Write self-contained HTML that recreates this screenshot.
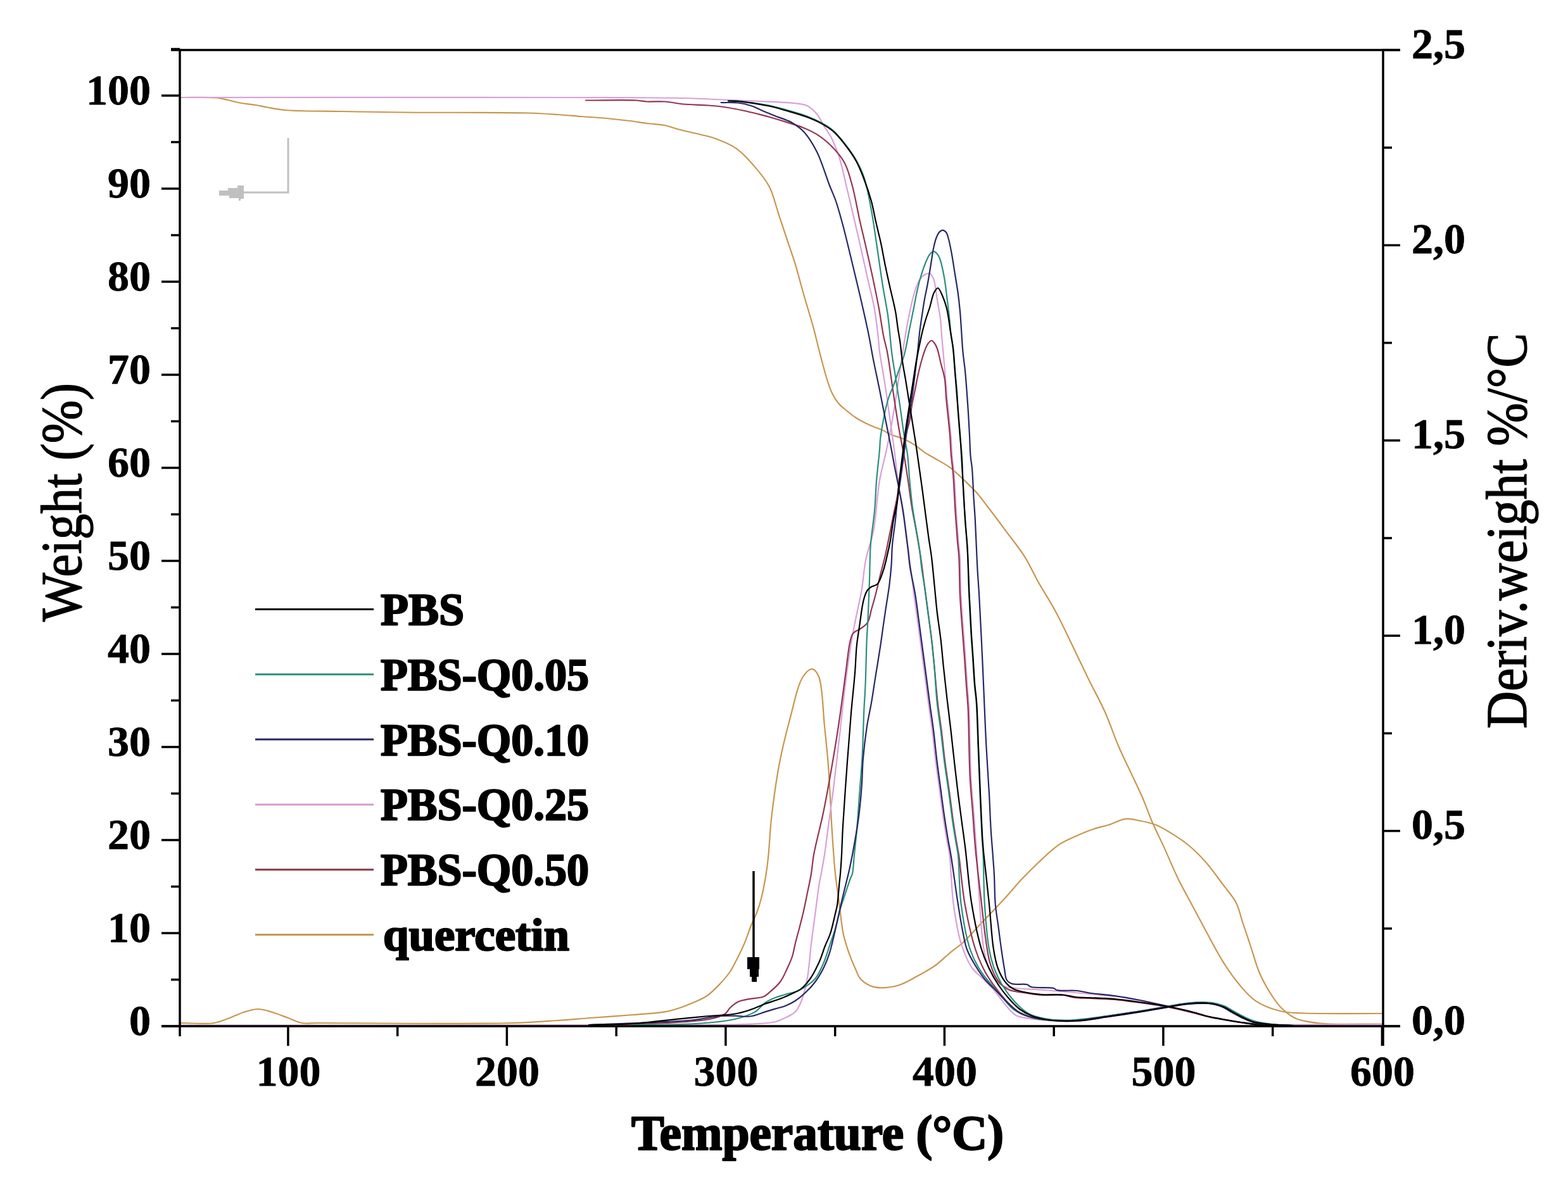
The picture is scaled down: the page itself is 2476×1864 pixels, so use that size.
<!DOCTYPE html>
<html><head><meta charset="utf-8"><title>TGA / DTG curves</title>
<style>html,body{margin:0;padding:0;background:#fff;overflow:hidden;}svg{display:block;}
.t{font-family:"Liberation Serif","DejaVu Serif",serif;font-weight:bold;fill:#000;stroke:#000;stroke-width:2.4px;stroke-linejoin:round;}
.r{font-family:"Liberation Serif","DejaVu Serif",serif;font-weight:normal;fill:#000;stroke:#000;stroke-width:1.4px;}</style></head><body>
<svg width="2476" height="1864" viewBox="0 0 2476 1864">
<rect width="2476" height="1864" fill="#fff"/>
<g fill="none" stroke-linejoin="round" stroke-linecap="round">
<path d="M284.0,154.0 C303.3,154.2 328.2,153.1 342.0,154.5 C349.8,155.3 354.2,156.7 360.0,158.0 C365.5,159.2 369.9,160.8 376.0,162.0 C384.0,163.6 395.7,164.6 404.0,166.0 C410.7,167.1 415.3,168.3 422.0,169.5 C430.3,171.0 438.0,172.9 450.0,174.0 C471.4,176.0 509.6,175.4 540.0,176.0 C571.2,176.6 597.6,177.1 635.0,177.5 C689.0,178.1 789.8,177.2 833.0,178.5 C854.1,179.1 865.2,180.0 880.0,181.0 C893.3,181.9 905.2,183.0 918.0,184.0 C931.2,185.0 944.9,185.8 958.0,187.0 C970.6,188.2 983.5,189.6 995.0,191.0 C1005.0,192.3 1013.7,193.8 1023.0,195.0 C1032.1,196.2 1041.7,196.3 1050.0,198.0 C1057.2,199.5 1062.3,201.9 1070.0,204.0 C1080.2,206.7 1095.2,209.8 1106.0,212.5 C1114.8,214.7 1121.5,215.9 1130.0,219.0 C1140.3,222.8 1152.9,227.7 1163.0,234.8 C1173.7,242.3 1183.3,253.4 1192.0,263.6 C1200.6,273.6 1208.9,283.4 1215.0,295.3 C1221.6,308.2 1224.8,324.2 1229.6,338.6 C1234.4,353.0 1239.5,368.2 1244.0,381.8 C1248.1,394.0 1251.6,403.6 1255.5,416.4 C1260.2,431.9 1265.1,451.3 1270.0,468.3 C1274.8,484.9 1280.0,501.2 1284.4,517.3 C1288.6,532.9 1292.0,548.5 1296.0,563.4 C1299.7,577.4 1303.8,593.3 1307.4,604.0 C1309.8,611.3 1311.6,616.4 1314.4,622.0 C1317.1,627.4 1320.3,632.6 1324.0,637.0 C1327.5,641.2 1331.6,644.4 1336.0,648.0 C1340.8,652.0 1346.5,656.6 1351.7,660.0 C1356.5,663.1 1361.1,665.5 1366.0,668.0 C1371.1,670.5 1376.9,673.1 1381.7,675.0 C1385.6,676.6 1388.6,677.3 1392.5,679.0 C1397.3,681.1 1402.5,684.7 1408.0,687.0 C1413.7,689.4 1420.1,690.5 1426.0,693.0 C1432.1,695.6 1438.3,699.0 1444.0,702.6 C1449.6,706.2 1454.6,711.0 1460.0,714.6 C1465.2,718.1 1470.1,720.5 1476.0,724.0 C1483.2,728.3 1492.3,732.7 1500.0,738.4 C1508.3,744.5 1516.7,753.0 1524.0,760.0 C1530.5,766.2 1536.2,771.4 1542.0,778.0 C1548.2,785.0 1553.3,792.3 1560.0,801.0 C1568.6,812.2 1579.4,826.6 1589.0,839.6 C1598.7,852.7 1609.5,865.8 1618.0,879.3 C1626.2,892.3 1631.7,905.4 1639.3,919.0 C1647.5,933.6 1657.2,948.1 1665.7,963.8 C1674.8,980.5 1683.3,998.8 1692.0,1016.7 C1700.9,1034.9 1709.7,1054.0 1718.6,1072.2 C1727.3,1090.1 1737.0,1107.0 1745.0,1125.0 C1753.0,1143.0 1759.6,1163.3 1766.8,1180.0 C1773.0,1194.4 1779.1,1206.4 1785.3,1219.6 C1791.5,1232.8 1798.0,1246.0 1803.8,1259.3 C1809.5,1272.5 1814.0,1285.9 1819.7,1299.0 C1825.5,1312.3 1831.9,1324.8 1838.2,1338.6 C1845.1,1353.7 1851.8,1370.5 1859.3,1386.0 C1866.7,1401.3 1875.3,1416.5 1883.0,1431.0 C1890.3,1444.7 1896.8,1456.9 1904.3,1470.7 C1912.6,1485.9 1921.5,1503.7 1930.7,1518.3 C1939.1,1531.7 1947.7,1544.4 1957.0,1555.3 C1965.4,1565.2 1973.0,1574.8 1983.5,1581.7 C1994.7,1589.1 2009.8,1594.4 2023.0,1597.5 C2035.3,1600.4 2044.1,1599.8 2060.0,1600.5 C2089.0,1601.7 2142.0,1600.8 2183.0,1601.0" stroke="#c8964e" stroke-width="2.2"/>
<path d="M284.0,1616.0 C302.0,1616.0 324.1,1618.2 338.0,1616.0 C347.1,1614.6 352.5,1611.7 360.0,1609.0 C368.1,1606.1 376.8,1601.5 385.0,1599.0 C392.6,1596.6 400.1,1594.0 407.6,1594.0 C415.1,1594.0 422.4,1596.8 430.0,1599.0 C438.2,1601.4 446.9,1605.1 455.0,1608.0 C462.6,1610.7 469.4,1614.7 477.0,1616.0 C484.7,1617.4 488.5,1616.0 501.0,1616.0 C545.7,1616.0 741.2,1617.9 808.0,1616.0 C840.4,1615.1 858.0,1613.5 880.0,1612.0 C898.7,1610.8 913.5,1609.4 932.0,1608.0 C953.1,1606.4 979.1,1604.7 1000.0,1603.0 C1018.0,1601.5 1036.5,1600.8 1050.0,1598.4 C1059.4,1596.7 1065.9,1594.6 1073.7,1592.0 C1081.7,1589.3 1090.1,1585.8 1097.5,1582.5 C1104.3,1579.5 1110.3,1577.3 1116.5,1573.0 C1123.6,1568.1 1130.8,1560.5 1137.0,1554.0 C1142.8,1547.9 1148.3,1541.7 1152.8,1535.0 C1157.2,1528.5 1160.3,1521.9 1164.0,1514.5 C1168.2,1506.2 1172.9,1496.5 1176.6,1487.6 C1180.2,1479.0 1182.7,1470.2 1186.0,1462.0 C1189.1,1454.3 1192.9,1447.3 1195.6,1440.0 C1198.2,1433.1 1200.0,1427.5 1202.0,1419.5 C1204.8,1408.5 1207.8,1392.3 1209.8,1380.0 C1211.5,1369.3 1212.3,1361.6 1213.5,1350.0 C1215.1,1334.2 1215.7,1314.5 1218.0,1294.0 C1220.8,1268.8 1225.0,1236.9 1230.0,1210.0 C1234.7,1184.7 1240.6,1160.8 1247.0,1137.0 C1253.3,1113.8 1259.3,1081.9 1268.0,1069.0 C1272.5,1062.3 1278.6,1056.4 1282.9,1056.8 C1286.8,1057.2 1290.3,1062.6 1293.0,1069.0 C1299.1,1083.3 1299.4,1122.4 1302.0,1147.0 C1304.3,1169.1 1306.5,1190.2 1308.0,1210.0 C1309.4,1227.6 1310.0,1242.9 1311.0,1260.0 C1312.0,1277.9 1312.7,1295.9 1314.0,1315.0 C1315.4,1335.8 1316.9,1360.1 1319.0,1380.0 C1320.8,1397.1 1323.2,1411.7 1325.3,1427.5 C1327.4,1443.3 1328.6,1460.9 1331.6,1475.0 C1334.1,1486.7 1337.6,1496.9 1341.0,1506.6 C1344.0,1515.1 1347.4,1523.0 1350.6,1530.0 C1353.3,1535.9 1354.7,1541.5 1358.5,1546.0 C1362.5,1550.7 1368.9,1554.8 1374.4,1557.2 C1379.4,1559.4 1383.9,1560.2 1390.0,1560.4 C1398.4,1560.6 1410.3,1559.0 1420.0,1556.0 C1430.0,1552.9 1439.3,1547.0 1448.8,1541.8 C1458.5,1536.5 1469.0,1530.8 1477.7,1524.5 C1485.7,1518.7 1492.0,1511.8 1499.3,1505.8 C1506.5,1499.8 1513.6,1495.3 1521.0,1488.5 C1529.8,1480.4 1538.9,1469.6 1548.0,1460.0 C1557.2,1450.3 1567.6,1439.5 1575.7,1430.8 C1582.2,1423.9 1586.9,1418.7 1593.0,1412.0 C1599.8,1404.4 1607.0,1395.7 1614.6,1387.6 C1622.6,1379.1 1630.9,1370.8 1640.0,1362.3 C1649.8,1353.1 1660.9,1341.9 1671.7,1334.6 C1681.2,1328.2 1691.2,1324.3 1700.8,1320.0 C1709.7,1316.0 1718.5,1312.4 1727.2,1309.5 C1735.3,1306.8 1742.9,1305.5 1751.0,1303.0 C1759.6,1300.3 1769.0,1294.5 1777.4,1293.6 C1784.8,1292.8 1791.2,1294.9 1798.6,1296.3 C1807.0,1297.9 1816.4,1299.6 1825.0,1303.0 C1834.0,1306.5 1842.8,1312.0 1851.4,1317.4 C1860.4,1323.0 1869.3,1328.9 1877.8,1336.0 C1887.0,1343.7 1895.8,1352.6 1904.3,1362.3 C1913.5,1372.7 1922.5,1385.7 1930.7,1396.7 C1938.2,1406.8 1946.5,1415.5 1951.8,1425.8 C1956.9,1435.8 1958.7,1446.4 1962.4,1457.5 C1966.6,1469.9 1971.2,1483.8 1975.6,1497.0 C1980.0,1510.2 1983.4,1524.3 1988.8,1536.8 C1994.0,1548.9 2001.0,1561.2 2007.3,1571.0 C2012.5,1579.1 2017.0,1585.8 2023.2,1592.0 C2029.4,1598.2 2037.2,1604.4 2044.3,1608.0 C2050.4,1611.1 2056.7,1612.1 2062.8,1613.4 C2068.6,1614.7 2074.0,1615.3 2080.0,1616.0 C2086.4,1616.7 2091.0,1617.2 2100.0,1617.5 C2118.2,1618.2 2155.3,1617.5 2183.0,1617.5" stroke="#c8964e" stroke-width="2.2"/>
<path d="M284.0,154.0 C489.3,154.0 756.2,153.6 900.0,154.0 C977.5,154.2 1032.9,153.9 1079.0,155.0 C1108.1,155.7 1128.4,157.1 1150.0,158.0 C1168.1,158.7 1183.0,159.2 1200.0,160.0 C1217.7,160.8 1240.4,161.3 1254.0,163.0 C1262.3,164.0 1268.0,163.9 1274.0,166.8 C1280.3,169.8 1286.3,175.8 1290.8,181.2 C1295.0,186.3 1296.9,192.3 1300.4,198.0 C1304.1,204.2 1308.8,209.8 1312.5,217.0 C1316.9,225.5 1320.9,235.0 1324.5,246.0 C1329.1,259.8 1332.5,277.4 1336.5,294.0 C1340.9,311.9 1345.9,333.6 1349.7,350.0 C1352.7,362.7 1354.7,371.4 1357.6,384.0 C1361.2,399.9 1365.7,420.5 1369.6,438.0 C1373.3,454.5 1377.7,470.3 1380.5,486.0 C1383.2,500.9 1385.0,517.2 1386.5,530.0 C1387.6,539.8 1387.8,546.7 1389.0,556.0 C1390.5,567.0 1393.1,580.5 1395.0,592.0 C1396.7,602.5 1398.1,611.4 1399.7,622.0 C1401.5,633.9 1403.1,646.5 1405.0,660.0 C1407.2,675.5 1409.8,693.3 1412.0,710.0 C1414.2,726.7 1415.7,743.5 1418.0,760.0 C1420.3,776.2 1423.3,793.9 1425.6,808.0 C1427.4,819.2 1429.1,828.0 1430.5,838.0 C1431.9,848.0 1432.8,858.3 1434.0,868.0 C1435.2,877.1 1436.4,884.7 1437.7,894.6 C1439.4,907.2 1441.1,923.3 1443.0,937.7 C1444.9,952.1 1447.0,966.6 1449.0,981.0 C1450.9,995.4 1452.8,1009.7 1454.7,1024.0 C1456.6,1038.3 1458.5,1052.7 1460.4,1067.0 C1462.3,1081.3 1464.1,1095.7 1466.0,1110.0 C1467.9,1124.3 1470.1,1138.1 1472.0,1153.0 C1474.0,1169.2 1475.7,1187.5 1477.7,1203.7 C1479.5,1218.7 1481.6,1232.6 1483.5,1247.0 C1485.4,1261.4 1487.3,1276.3 1489.3,1290.0 C1491.1,1302.5 1493.2,1315.2 1495.0,1326.0 C1496.5,1334.8 1498.0,1339.7 1499.4,1350.0 C1501.8,1368.5 1502.3,1403.6 1505.6,1428.0 C1508.6,1449.9 1511.9,1472.0 1517.6,1490.0 C1522.3,1504.8 1528.4,1519.5 1535.0,1529.0 C1539.6,1535.7 1544.7,1538.6 1550.0,1544.0 C1556.1,1550.2 1563.3,1556.8 1569.6,1564.0 C1576.3,1571.7 1582.7,1581.9 1589.0,1589.0 C1594.1,1594.7 1598.1,1600.4 1604.0,1603.7 C1609.8,1607.0 1616.3,1607.3 1624.0,1608.7 C1634.4,1610.5 1648.4,1611.8 1661.0,1612.5 C1674.1,1613.3 1687.3,1613.8 1701.0,1613.0 C1715.6,1612.1 1730.4,1609.2 1746.0,1607.0 C1763.0,1604.6 1781.9,1601.7 1799.0,1599.0 C1815.1,1596.4 1832.3,1593.3 1846.0,1591.0 C1856.5,1589.3 1864.2,1587.4 1874.0,1586.5 C1884.8,1585.5 1897.8,1584.5 1908.0,1585.5 C1916.5,1586.4 1924.2,1588.3 1931.0,1591.0 C1937.0,1593.4 1941.6,1597.0 1947.0,1600.0 C1952.6,1603.0 1958.3,1606.4 1964.0,1609.0 C1969.6,1611.6 1974.4,1614.0 1981.0,1615.6 C1989.5,1617.6 2001.0,1617.8 2011.0,1618.5 C2021.0,1619.2 2031.0,1619.5 2041.0,1620.0" stroke="#d9a0d9" stroke-width="2.2"/>
<path d="M284.0,1619.5 C556.0,1619.3 963.0,1620.3 1100.0,1619.0 C1146.1,1618.6 1169.7,1618.6 1192.4,1617.3 C1205.7,1616.5 1215.4,1616.3 1224.0,1614.2 C1230.4,1612.6 1234.8,1610.4 1240.0,1607.8 C1245.4,1605.1 1251.5,1602.6 1255.7,1598.4 C1259.9,1594.2 1262.2,1589.1 1265.0,1582.5 C1268.9,1573.0 1272.1,1559.5 1274.7,1546.0 C1277.8,1529.6 1278.8,1508.5 1281.0,1490.8 C1283.0,1474.4 1285.2,1459.1 1287.3,1443.3 C1289.4,1427.5 1291.8,1407.4 1293.7,1395.8 C1294.8,1389.1 1295.7,1386.1 1296.8,1380.0 C1298.4,1371.6 1300.3,1361.0 1302.0,1350.0 C1304.1,1336.5 1305.8,1321.3 1308.0,1305.0 C1310.6,1285.8 1313.7,1264.4 1316.5,1242.0 C1319.7,1216.5 1322.9,1187.2 1326.0,1160.0 C1329.1,1133.2 1331.7,1105.8 1335.0,1080.0 C1338.1,1055.9 1341.9,1028.7 1345.0,1010.0 C1347.1,997.5 1348.7,990.2 1351.0,978.8 C1353.8,964.8 1357.9,947.7 1360.6,932.0 C1363.3,916.4 1363.9,900.6 1367.0,885.0 C1370.1,869.2 1376.0,855.8 1379.4,838.0 C1383.7,815.4 1384.8,783.0 1388.8,760.0 C1391.9,741.4 1396.7,725.8 1400.0,710.0 C1403.0,695.9 1405.5,684.1 1408.0,670.0 C1410.8,654.3 1413.4,637.1 1416.0,620.0 C1418.7,602.1 1421.3,582.2 1424.0,565.0 C1426.3,549.8 1428.6,535.7 1431.0,522.0 C1433.2,509.4 1435.6,496.8 1438.0,486.0 C1440.0,477.2 1441.6,469.6 1444.0,462.0 C1446.3,454.9 1448.7,446.9 1452.0,442.0 C1454.4,438.4 1457.1,435.6 1460.0,434.0 C1462.5,432.6 1465.7,431.2 1468.0,432.0 C1470.5,432.9 1472.3,436.1 1474.0,440.0 C1477.1,447.2 1478.1,463.0 1480.0,474.0 C1481.8,484.3 1483.8,494.3 1485.0,504.0 C1486.1,513.0 1486.2,519.9 1487.0,530.0 C1488.2,544.0 1490.1,563.5 1491.5,580.0 C1492.9,596.2 1494.1,613.2 1495.5,628.0 C1496.7,640.9 1498.1,653.2 1499.2,664.0 C1500.1,672.8 1500.8,679.4 1501.5,688.0 C1502.3,697.9 1502.6,709.7 1503.5,720.0 C1504.3,729.7 1505.6,736.9 1506.5,748.0 C1507.8,764.2 1508.8,789.1 1510.0,808.0 C1511.1,824.9 1512.4,842.8 1513.5,856.0 C1514.3,865.4 1515.2,870.3 1515.8,880.0 C1516.7,895.1 1516.5,919.9 1517.3,937.7 C1518.0,953.2 1519.0,965.5 1520.1,981.0 C1521.4,998.8 1523.2,1020.8 1524.5,1038.6 C1525.6,1054.1 1526.4,1068.0 1527.4,1082.0 C1528.3,1095.1 1529.4,1104.2 1530.2,1120.0 C1531.5,1146.3 1531.6,1195.5 1533.1,1225.3 C1534.2,1247.4 1536.0,1263.8 1537.5,1283.0 C1538.9,1302.2 1540.4,1319.4 1541.8,1340.6 C1543.6,1366.7 1544.9,1400.3 1547.0,1428.0 C1548.9,1453.2 1550.2,1481.3 1553.6,1500.0 C1555.9,1512.3 1558.5,1521.4 1562.0,1530.0 C1564.9,1537.0 1567.9,1543.2 1572.0,1548.0 C1575.7,1552.3 1579.9,1555.8 1585.0,1558.0 C1590.5,1560.4 1596.3,1560.1 1604.0,1561.0 C1615.8,1562.3 1632.3,1562.7 1649.0,1564.0 C1670.0,1565.6 1699.7,1568.1 1720.0,1570.0 C1735.2,1571.4 1746.7,1572.3 1760.0,1574.0 C1773.4,1575.7 1786.3,1577.5 1800.0,1580.0 C1814.6,1582.7 1830.5,1586.7 1845.0,1590.0 C1858.5,1593.1 1872.7,1596.1 1884.0,1599.0 C1892.7,1601.2 1899.3,1603.7 1907.0,1605.5 C1914.6,1607.3 1921.8,1608.5 1930.0,1610.0 C1939.3,1611.7 1950.0,1613.7 1960.0,1615.0 C1970.0,1616.3 1975.6,1617.3 1990.0,1618.0 C2026.4,1619.8 2118.7,1618.0 2183.0,1618.0" stroke="#d9a0d9" stroke-width="2.2"/>
<path d="M925.0,158.5 C951.7,158.5 988.5,157.5 1005.0,158.5 C1012.4,159.0 1014.9,160.1 1021.0,160.5 C1029.2,161.0 1040.4,159.8 1050.0,160.5 C1059.7,161.2 1068.6,163.5 1079.0,164.5 C1091.2,165.6 1106.3,165.5 1118.7,166.5 C1129.6,167.4 1139.9,168.5 1149.4,170.0 C1157.8,171.3 1165.2,172.8 1173.0,174.5 C1180.9,176.2 1189.2,178.2 1196.5,180.0 C1202.9,181.6 1207.9,182.8 1214.5,184.7 C1222.7,187.0 1232.7,190.0 1241.7,192.9 C1250.8,195.8 1260.2,198.3 1268.8,201.9 C1277.0,205.3 1284.5,208.7 1292.0,213.7 C1300.3,219.2 1308.9,226.5 1316.0,234.0 C1322.9,241.3 1329.2,248.7 1334.0,258.0 C1339.5,268.4 1342.3,280.6 1346.0,294.0 C1350.5,310.5 1354.3,333.7 1358.0,350.0 C1360.9,362.8 1363.1,371.4 1366.0,384.0 C1369.6,399.9 1374.3,420.5 1378.0,438.0 C1381.5,454.5 1384.8,470.3 1387.7,486.0 C1390.5,501.0 1392.5,517.3 1395.0,530.0 C1396.9,539.8 1399.3,547.0 1401.0,556.0 C1402.9,565.6 1404.1,575.0 1405.7,586.0 C1407.7,599.3 1409.7,614.9 1412.0,630.0 C1414.4,646.1 1417.2,664.1 1420.0,680.0 C1422.6,694.6 1425.6,708.3 1428.0,722.0 C1430.3,735.0 1432.0,747.0 1434.0,760.0 C1436.1,773.6 1437.8,789.0 1440.0,802.0 C1441.9,813.4 1443.9,822.4 1446.0,834.0 C1448.5,847.9 1451.5,864.9 1453.8,880.0 C1456.0,894.6 1457.6,908.6 1459.5,923.0 C1461.4,937.5 1463.4,952.0 1465.3,966.5 C1467.2,980.9 1469.3,995.3 1471.0,1009.7 C1472.7,1024.1 1473.9,1037.6 1475.4,1053.0 C1477.1,1070.7 1478.7,1092.4 1480.7,1110.0 C1482.4,1125.4 1484.6,1138.1 1486.5,1153.0 C1488.5,1169.2 1490.1,1186.8 1492.3,1203.7 C1494.5,1220.5 1497.3,1237.8 1499.5,1254.0 C1501.6,1269.0 1503.2,1283.6 1505.2,1297.4 C1507.0,1310.0 1509.3,1323.7 1511.0,1333.4 C1512.1,1340.0 1512.8,1342.4 1514.0,1350.0 C1516.5,1366.4 1519.1,1402.6 1523.6,1428.0 C1528.0,1452.6 1533.9,1480.4 1540.4,1500.0 C1545.1,1514.3 1550.3,1525.4 1556.0,1536.0 C1560.9,1545.1 1566.3,1552.3 1572.0,1560.0 C1577.6,1567.6 1583.7,1575.5 1590.0,1582.0 C1595.8,1588.0 1601.3,1593.8 1608.0,1598.0 C1614.6,1602.1 1621.9,1604.7 1630.0,1607.0 C1639.3,1609.6 1650.0,1611.0 1661.0,1612.0 C1673.4,1613.1 1687.3,1613.3 1701.0,1612.5 C1715.6,1611.6 1730.4,1608.7 1746.0,1606.5 C1763.0,1604.1 1781.9,1601.2 1799.0,1598.5 C1815.1,1595.9 1832.3,1592.8 1846.0,1590.5 C1856.5,1588.8 1864.2,1586.9 1874.0,1586.0 C1884.8,1585.0 1897.8,1584.0 1908.0,1585.0 C1916.5,1585.9 1924.2,1587.8 1931.0,1590.5 C1937.0,1592.9 1941.6,1596.5 1947.0,1599.5 C1952.6,1602.5 1958.3,1605.9 1964.0,1608.5 C1969.6,1611.1 1974.4,1613.5 1981.0,1615.1 C1989.5,1617.2 2001.0,1617.7 2011.0,1618.5 C2021.0,1619.3 2031.0,1619.5 2041.0,1620.0" stroke="#933550" stroke-width="2.2"/>
<path d="M930.0,1619.0 C970.0,1618.0 1015.4,1617.9 1050.0,1616.0 C1076.5,1614.5 1102.7,1613.6 1120.0,1610.0 C1130.6,1607.8 1139.4,1605.4 1145.0,1601.5 C1148.9,1598.8 1149.7,1595.0 1152.8,1592.0 C1156.4,1588.6 1160.6,1584.8 1165.5,1582.5 C1171.0,1579.9 1178.0,1579.1 1184.5,1577.8 C1191.2,1576.5 1199.4,1576.9 1205.0,1574.6 C1209.5,1572.8 1212.1,1570.0 1216.0,1566.7 C1221.0,1562.5 1227.5,1557.0 1232.0,1551.0 C1236.6,1544.8 1239.8,1536.9 1243.0,1530.0 C1246.0,1523.6 1248.9,1517.5 1251.0,1511.0 C1253.1,1504.5 1254.0,1497.8 1255.7,1490.8 C1257.6,1483.2 1259.9,1474.9 1262.0,1467.0 C1264.0,1459.1 1266.0,1451.8 1268.0,1443.3 C1270.3,1433.5 1272.5,1422.2 1274.7,1411.6 C1276.9,1401.1 1279.3,1390.4 1281.0,1380.0 C1282.7,1369.9 1282.9,1361.9 1285.0,1350.0 C1288.2,1332.2 1295.7,1304.8 1300.0,1284.0 C1303.9,1265.4 1306.7,1249.4 1310.0,1231.0 C1313.6,1210.9 1317.7,1186.9 1320.7,1168.0 C1323.2,1152.6 1324.8,1141.4 1327.0,1126.0 C1329.7,1107.1 1332.7,1082.6 1335.4,1063.0 C1337.7,1045.9 1339.6,1025.9 1342.0,1015.0 C1343.3,1009.2 1344.2,1005.0 1346.0,1002.0 C1347.1,1000.1 1348.3,999.2 1350.0,998.0 C1352.0,996.5 1354.8,995.8 1357.5,994.0 C1361.3,991.4 1367.0,988.1 1370.0,983.4 C1373.5,978.1 1374.0,970.0 1376.0,963.0 C1378.1,955.5 1380.3,948.1 1382.5,939.7 C1385.0,930.1 1387.4,918.8 1390.0,908.4 C1392.6,897.9 1395.6,887.5 1398.0,877.0 C1400.4,866.7 1402.3,856.4 1404.4,846.0 C1406.5,835.6 1408.5,825.1 1410.6,814.7 C1412.7,804.3 1415.4,793.1 1417.0,783.4 C1418.4,775.1 1418.7,768.8 1420.0,760.0 C1421.8,748.4 1425.2,732.6 1427.0,720.0 C1428.6,708.8 1428.7,697.8 1430.5,688.0 C1432.0,679.4 1434.9,672.0 1436.5,664.0 C1438.1,656.0 1438.6,648.0 1440.0,640.0 C1441.4,632.0 1443.3,624.0 1444.9,616.0 C1446.5,608.0 1447.9,600.0 1449.7,592.0 C1451.5,584.0 1453.5,575.4 1455.7,568.0 C1457.6,561.5 1459.7,554.7 1461.7,550.0 C1463.1,546.7 1464.2,544.1 1466.0,542.0 C1467.5,540.2 1469.7,537.9 1471.3,538.0 C1472.8,538.1 1474.2,540.3 1475.5,542.0 C1477.1,544.1 1478.4,546.5 1479.7,550.0 C1481.9,555.8 1483.7,566.0 1485.7,574.0 C1487.7,582.0 1490.3,589.5 1491.7,598.0 C1493.2,607.4 1493.1,617.6 1494.0,628.0 C1495.0,639.5 1496.6,653.2 1497.7,664.0 C1498.6,672.8 1499.3,679.4 1500.0,688.0 C1500.8,697.9 1501.1,709.7 1502.0,720.0 C1502.8,729.7 1504.1,736.9 1505.0,748.0 C1506.3,764.2 1507.3,789.1 1508.5,808.0 C1509.6,824.9 1510.9,842.8 1512.0,856.0 C1512.8,865.4 1513.7,870.3 1514.3,880.0 C1515.2,895.1 1515.0,919.9 1515.8,937.7 C1516.5,953.2 1517.5,965.5 1518.6,981.0 C1519.9,998.8 1521.7,1020.8 1523.0,1038.6 C1524.1,1054.1 1524.9,1068.0 1525.9,1082.0 C1526.8,1095.1 1527.9,1104.2 1528.7,1120.0 C1530.0,1146.3 1530.1,1195.5 1531.6,1225.3 C1532.7,1247.4 1534.5,1263.8 1536.0,1283.0 C1537.4,1302.2 1538.3,1319.4 1540.3,1340.6 C1542.7,1366.7 1547.1,1402.6 1550.0,1428.0 C1552.2,1447.6 1553.7,1463.8 1556.0,1480.0 C1558.1,1494.2 1559.4,1508.0 1563.0,1520.0 C1566.1,1530.4 1569.9,1540.7 1575.0,1548.0 C1579.2,1554.0 1584.6,1558.9 1590.0,1562.0 C1594.7,1564.7 1600.0,1565.4 1605.0,1566.5 C1609.7,1567.5 1613.6,1567.8 1619.0,1568.5 C1626.3,1569.5 1635.7,1571.4 1645.0,1572.0 C1655.6,1572.7 1669.3,1571.0 1679.0,1572.0 C1686.3,1572.8 1691.4,1575.2 1698.0,1576.0 C1705.0,1576.9 1711.6,1576.6 1720.0,1577.0 C1731.4,1577.5 1746.7,1577.8 1760.0,1579.0 C1773.4,1580.2 1786.3,1582.1 1800.0,1584.0 C1814.6,1586.0 1830.6,1588.2 1845.0,1591.0 C1858.5,1593.6 1872.7,1597.2 1884.0,1600.0 C1892.7,1602.1 1899.3,1604.2 1907.0,1606.0 C1914.6,1607.7 1921.8,1609.0 1930.0,1610.5 C1939.3,1612.2 1950.0,1614.0 1960.0,1615.5 C1970.0,1617.0 1980.0,1618.2 1990.0,1619.5" stroke="#933550" stroke-width="2.2"/>
<path d="M1150.0,159.0 C1156.3,159.3 1161.3,159.3 1169.0,160.0 C1180.9,161.2 1201.3,163.9 1214.5,166.5 C1224.8,168.6 1232.3,170.8 1241.7,173.5 C1252.0,176.4 1264.1,179.7 1274.0,183.5 C1282.7,186.8 1290.7,190.4 1298.0,194.5 C1304.6,198.2 1310.3,201.5 1316.0,206.5 C1322.4,212.1 1328.2,219.6 1334.0,227.0 C1340.2,235.0 1346.9,244.1 1352.0,253.0 C1356.8,261.5 1360.5,268.7 1364.0,279.0 C1368.8,293.0 1372.3,312.7 1375.6,330.0 C1379.0,347.7 1381.1,365.1 1384.0,384.0 C1387.2,404.9 1390.5,429.8 1393.7,450.0 C1396.5,467.3 1400.1,485.1 1402.0,498.0 C1403.2,506.7 1403.6,511.8 1404.5,520.0 C1405.6,530.5 1406.5,543.8 1408.0,556.0 C1409.6,568.8 1411.9,581.5 1414.0,595.0 C1416.2,609.5 1418.7,624.6 1421.0,640.0 C1423.4,656.2 1425.7,675.8 1428.0,690.0 C1429.7,700.7 1431.7,707.7 1433.0,718.0 C1434.6,730.6 1435.2,746.0 1436.5,760.0 C1437.8,774.0 1439.2,789.2 1441.0,802.0 C1442.5,812.9 1444.3,821.5 1446.0,832.0 C1447.9,843.5 1450.4,856.3 1452.0,868.0 C1453.5,879.0 1454.3,889.5 1455.7,900.0 C1457.1,910.2 1459.0,919.5 1460.5,930.0 C1462.2,941.6 1463.6,953.8 1465.3,966.5 C1467.1,980.3 1469.3,995.3 1471.0,1009.7 C1472.7,1024.1 1474.0,1037.6 1475.4,1053.0 C1477.0,1070.7 1477.8,1092.4 1479.7,1110.0 C1481.3,1125.4 1483.6,1138.1 1485.5,1153.0 C1487.5,1169.2 1489.1,1186.8 1491.3,1203.7 C1493.5,1220.5 1496.3,1237.8 1498.5,1254.0 C1500.6,1269.0 1502.2,1283.6 1504.2,1297.4 C1506.0,1310.0 1508.4,1323.7 1510.0,1333.4 C1511.1,1340.0 1512.0,1342.4 1512.9,1350.0 C1514.8,1366.4 1514.3,1402.6 1517.6,1428.0 C1520.8,1452.6 1525.6,1480.9 1532.0,1500.0 C1536.5,1513.5 1541.9,1523.3 1548.0,1533.0 C1553.4,1541.7 1559.9,1548.6 1566.0,1556.0 C1571.9,1563.2 1578.1,1570.4 1584.0,1577.0 C1589.4,1583.0 1593.9,1589.5 1600.0,1594.0 C1606.0,1598.4 1612.8,1601.4 1620.0,1604.0 C1627.7,1606.8 1637.7,1608.9 1645.0,1610.0 C1650.6,1610.9 1653.8,1610.8 1660.0,1611.0 C1670.1,1611.4 1686.3,1612.3 1700.0,1611.5 C1714.6,1610.6 1729.4,1607.7 1745.0,1605.5 C1762.0,1603.1 1780.9,1600.2 1798.0,1597.5 C1814.1,1594.9 1831.3,1591.8 1845.0,1589.5 C1855.5,1587.8 1863.2,1585.9 1873.0,1585.0 C1883.8,1584.0 1896.8,1583.0 1907.0,1584.0 C1915.5,1584.9 1923.2,1586.8 1930.0,1589.5 C1936.0,1591.9 1940.6,1595.5 1946.0,1598.5 C1951.6,1601.5 1957.3,1604.9 1963.0,1607.5 C1968.6,1610.1 1973.4,1612.4 1980.0,1614.1 C1988.5,1616.3 2000.0,1617.5 2010.0,1618.5 C2020.0,1619.5 2030.0,1619.5 2040.0,1620.0" stroke="#2b8f7c" stroke-width="2.2"/>
<path d="M1000.0,1619.0 C1033.3,1618.3 1070.9,1619.0 1100.0,1617.0 C1122.6,1615.5 1143.2,1613.9 1160.0,1610.0 C1172.6,1607.0 1183.9,1603.5 1192.4,1598.4 C1199.1,1594.4 1202.7,1587.8 1208.2,1584.0 C1213.2,1580.5 1218.6,1578.2 1224.0,1576.0 C1229.2,1573.9 1234.3,1572.7 1240.0,1571.0 C1246.4,1569.1 1254.7,1567.4 1260.4,1565.0 C1264.8,1563.2 1267.6,1561.4 1271.5,1558.8 C1276.4,1555.5 1282.8,1551.5 1287.3,1546.0 C1292.5,1539.7 1296.2,1531.0 1300.0,1522.4 C1304.2,1512.8 1307.6,1500.6 1311.0,1490.8 C1313.9,1482.3 1316.5,1475.5 1319.0,1467.0 C1321.9,1457.3 1324.2,1445.1 1327.0,1435.4 C1329.5,1426.9 1332.2,1419.5 1334.8,1411.6 C1337.4,1403.7 1340.5,1393.8 1342.7,1388.0 C1344.0,1384.6 1345.1,1383.6 1346.0,1380.0 C1347.7,1373.3 1347.9,1360.6 1349.0,1350.0 C1350.2,1338.1 1351.7,1326.0 1352.9,1312.0 C1354.4,1294.7 1355.8,1273.3 1357.2,1254.0 C1358.6,1234.8 1360.3,1217.0 1361.5,1196.5 C1362.8,1172.8 1363.4,1141.1 1364.4,1120.0 C1365.1,1105.1 1365.9,1096.7 1366.5,1082.0 C1367.4,1061.7 1367.9,1028.7 1368.7,1009.7 C1369.3,997.2 1369.9,990.9 1370.5,978.8 C1371.3,961.5 1372.3,936.2 1373.0,916.0 C1373.7,897.2 1373.4,879.7 1374.7,861.6 C1376.0,843.4 1379.4,824.5 1381.0,807.0 C1382.5,790.8 1382.9,773.9 1384.0,760.0 C1384.9,748.9 1386.1,739.0 1387.0,730.0 C1387.7,722.7 1388.5,716.3 1389.0,710.0 C1389.5,704.4 1389.4,699.9 1390.0,694.0 C1390.8,686.8 1392.3,678.0 1393.7,670.0 C1395.1,662.0 1396.8,653.4 1398.5,646.0 C1400.0,639.5 1401.3,633.9 1403.3,628.0 C1405.3,621.9 1408.1,616.5 1410.5,610.0 C1413.3,602.6 1416.1,594.2 1419.0,586.0 C1422.0,577.5 1425.4,569.6 1428.0,560.0 C1431.1,548.6 1433.2,534.5 1435.7,522.0 C1438.2,509.8 1440.8,496.8 1443.0,486.0 C1444.8,477.2 1445.9,470.0 1447.7,462.0 C1449.5,454.0 1451.3,445.9 1453.7,438.0 C1456.1,429.9 1459.2,420.6 1462.0,414.0 C1464.0,409.2 1465.6,405.0 1468.0,402.0 C1469.8,399.7 1472.0,397.2 1474.0,397.0 C1475.7,396.9 1477.5,398.5 1479.0,400.0 C1480.9,401.9 1482.3,404.3 1483.8,408.0 C1486.5,414.7 1489.0,427.5 1491.0,438.0 C1493.1,449.4 1494.3,462.5 1495.8,474.0 C1497.1,484.5 1498.4,494.4 1499.4,504.0 C1500.4,513.0 1500.8,521.9 1501.8,530.0 C1502.7,537.1 1504.1,542.6 1505.0,550.0 C1506.1,559.0 1506.4,569.6 1507.3,580.0 C1508.3,591.5 1510.0,604.0 1511.0,616.0 C1511.9,628.0 1512.2,640.0 1513.0,652.0 C1513.8,664.0 1514.7,676.4 1515.7,688.0 C1516.7,699.0 1518.2,708.7 1519.0,720.0 C1519.9,732.6 1519.8,745.3 1520.5,760.0 C1521.4,778.0 1522.7,801.1 1524.0,820.0 C1525.1,836.9 1526.7,850.5 1527.7,868.0 C1528.9,889.1 1529.1,915.6 1530.0,937.7 C1530.9,957.7 1531.9,977.2 1533.0,995.0 C1533.9,1010.5 1535.0,1024.1 1536.0,1038.6 C1537.0,1053.1 1537.7,1069.1 1538.8,1082.0 C1539.7,1092.4 1540.9,1098.5 1541.7,1110.0 C1543.0,1128.4 1543.6,1158.0 1544.6,1182.0 C1545.6,1206.0 1546.5,1230.0 1547.5,1254.0 C1548.5,1278.0 1549.8,1308.4 1550.8,1326.0 C1551.4,1336.1 1552.0,1339.7 1552.5,1350.0 C1553.4,1368.5 1553.2,1402.5 1554.8,1428.0 C1556.4,1452.5 1558.6,1481.3 1562.0,1500.0 C1564.2,1512.3 1566.5,1520.6 1570.0,1530.0 C1573.3,1538.9 1577.5,1547.3 1582.0,1555.0 C1586.2,1562.2 1590.9,1568.8 1596.0,1575.0 C1601.0,1581.1 1606.4,1587.2 1612.0,1592.0 C1617.1,1596.4 1622.0,1600.2 1628.0,1603.0 C1634.5,1606.0 1642.0,1607.5 1650.0,1609.0 C1659.2,1610.7 1668.0,1612.0 1680.0,1612.0 C1698.1,1612.0 1726.8,1607.7 1748.0,1605.0 C1766.8,1602.6 1783.9,1599.7 1801.0,1597.0 C1817.1,1594.4 1834.3,1591.3 1848.0,1589.0 C1858.5,1587.3 1866.2,1585.4 1876.0,1584.5 C1886.8,1583.5 1899.8,1582.5 1910.0,1583.5 C1918.5,1584.4 1926.2,1586.3 1933.0,1589.0 C1939.0,1591.4 1943.6,1595.0 1949.0,1598.0 C1954.6,1601.0 1960.3,1604.4 1966.0,1607.0 C1971.6,1609.6 1976.4,1611.8 1983.0,1613.6 C1991.5,1615.9 2003.0,1617.4 2013.0,1618.5 C2023.0,1619.6 2033.0,1619.5 2043.0,1620.0" stroke="#2b8f7c" stroke-width="2.2"/>
<path d="M1138.6,162.0 C1147.6,162.2 1157.2,161.5 1165.7,162.5 C1173.4,163.4 1181.0,165.4 1187.4,167.5 C1192.8,169.3 1196.6,171.7 1202.0,174.0 C1208.5,176.8 1216.0,179.9 1223.6,183.0 C1231.9,186.4 1242.1,189.0 1250.0,193.5 C1257.5,197.8 1263.9,202.3 1270.0,209.0 C1277.4,217.1 1283.9,227.9 1290.0,240.0 C1297.5,255.0 1304.4,278.6 1310.0,293.0 C1313.8,302.9 1316.9,308.9 1320.0,318.0 C1323.6,328.4 1326.6,339.7 1330.0,352.0 C1334.0,366.6 1338.0,383.8 1342.0,400.0 C1346.0,416.5 1350.4,434.7 1354.0,450.0 C1357.1,463.0 1359.6,473.4 1362.4,486.0 C1365.5,499.9 1369.2,515.8 1372.0,530.0 C1374.6,543.1 1376.8,556.8 1379.0,568.0 C1380.8,576.9 1382.3,584.0 1384.0,592.0 C1385.7,600.0 1387.4,608.0 1389.0,616.0 C1390.6,624.0 1392.1,632.0 1393.7,640.0 C1395.3,648.0 1396.9,656.0 1398.5,664.0 C1400.1,672.0 1401.7,680.0 1403.3,688.0 C1404.9,696.0 1406.5,704.0 1408.0,712.0 C1409.5,720.0 1410.8,727.6 1412.4,736.0 C1414.2,745.4 1416.3,755.2 1418.4,766.0 C1420.8,778.6 1423.9,793.5 1426.0,807.0 C1428.1,820.1 1429.5,834.7 1431.0,846.0 C1432.1,854.7 1433.0,861.0 1434.0,869.0 C1435.0,877.6 1435.5,886.1 1437.0,896.0 C1438.9,908.4 1442.7,923.6 1445.0,937.7 C1447.4,952.0 1449.0,966.6 1451.0,981.0 C1452.9,995.4 1454.8,1009.7 1456.7,1024.0 C1458.6,1038.3 1460.5,1052.7 1462.4,1067.0 C1464.3,1081.3 1466.1,1095.7 1468.0,1110.0 C1469.9,1124.3 1472.1,1138.1 1474.0,1153.0 C1476.0,1169.2 1477.7,1187.5 1479.7,1203.7 C1481.5,1218.7 1483.6,1232.6 1485.5,1247.0 C1487.4,1261.4 1489.3,1276.3 1491.3,1290.0 C1493.1,1302.5 1495.2,1315.2 1497.0,1326.0 C1498.5,1334.8 1499.7,1339.7 1501.4,1350.0 C1504.5,1368.5 1509.3,1406.0 1512.8,1428.0 C1515.4,1444.2 1517.4,1457.2 1520.0,1470.0 C1522.2,1480.9 1523.5,1490.7 1527.0,1500.0 C1530.3,1508.9 1535.2,1517.0 1540.0,1525.0 C1544.8,1533.0 1550.2,1541.0 1556.0,1548.0 C1561.6,1554.6 1568.0,1559.9 1574.0,1566.0 C1580.0,1572.2 1585.8,1579.2 1592.0,1585.0 C1597.8,1590.5 1603.3,1596.2 1610.0,1600.0 C1616.7,1603.8 1624.2,1606.1 1632.0,1608.0 C1640.4,1610.1 1649.1,1610.8 1659.0,1611.5 C1671.0,1612.4 1685.3,1612.8 1699.0,1612.0 C1713.6,1611.1 1728.4,1608.2 1744.0,1606.0 C1761.0,1603.6 1779.9,1600.7 1797.0,1598.0 C1813.1,1595.4 1830.3,1592.3 1844.0,1590.0 C1854.5,1588.3 1862.2,1586.4 1872.0,1585.5 C1882.8,1584.5 1895.8,1583.5 1906.0,1584.5 C1914.5,1585.4 1922.2,1587.3 1929.0,1590.0 C1935.0,1592.4 1939.6,1596.0 1945.0,1599.0 C1950.6,1602.0 1956.3,1605.4 1962.0,1608.0 C1967.6,1610.6 1972.4,1612.9 1979.0,1614.6 C1987.5,1616.8 1999.0,1617.6 2009.0,1618.5 C2019.0,1619.4 2029.0,1619.5 2039.0,1620.0" stroke="#262866" stroke-width="2.2"/>
<path d="M930.0,1619.0 C970.0,1617.4 1019.1,1615.9 1050.0,1614.2 C1069.4,1613.2 1082.4,1612.6 1097.5,1611.0 C1111.3,1609.5 1125.5,1605.9 1137.0,1605.0 C1145.9,1604.3 1152.9,1604.6 1160.8,1604.7 C1168.7,1604.8 1176.7,1606.5 1184.5,1605.5 C1192.5,1604.5 1201.1,1600.5 1208.2,1598.4 C1214.0,1596.7 1218.7,1595.2 1224.0,1593.6 C1229.3,1592.0 1234.8,1591.1 1240.0,1589.0 C1245.4,1586.9 1250.6,1584.3 1255.7,1581.0 C1261.1,1577.5 1266.4,1573.1 1271.5,1568.3 C1277.0,1563.2 1282.6,1557.3 1287.3,1551.0 C1292.1,1544.6 1296.3,1537.3 1300.0,1530.0 C1303.7,1522.6 1306.9,1514.5 1309.5,1506.6 C1312.1,1498.8 1313.4,1492.6 1315.8,1482.8 C1319.7,1466.9 1325.4,1439.7 1330.0,1420.0 C1334.1,1402.4 1338.6,1386.0 1342.0,1370.0 C1345.1,1355.4 1347.6,1341.7 1350.0,1328.0 C1352.3,1315.0 1354.3,1303.5 1356.0,1290.0 C1357.9,1274.9 1359.6,1257.3 1360.7,1241.7 C1361.8,1227.2 1361.6,1214.5 1362.8,1199.7 C1364.2,1183.1 1366.6,1163.0 1369.0,1147.0 C1371.1,1133.5 1373.9,1122.3 1376.0,1110.0 C1378.1,1097.8 1379.6,1086.9 1381.7,1073.6 C1384.3,1057.5 1387.9,1035.8 1390.3,1020.0 C1392.2,1007.6 1393.4,997.6 1395.0,986.6 C1396.5,975.9 1398.1,965.5 1399.7,955.0 C1401.3,944.6 1403.1,934.4 1404.4,924.0 C1405.7,913.6 1406.7,903.2 1407.5,892.8 C1408.3,882.4 1408.1,872.6 1409.0,861.6 C1410.0,849.3 1412.4,834.8 1413.8,822.5 C1415.0,811.4 1415.7,801.4 1417.0,791.0 C1418.3,780.6 1420.0,771.0 1421.6,760.0 C1423.4,747.5 1425.1,734.5 1427.0,720.0 C1429.2,702.9 1431.6,680.6 1434.0,664.0 C1435.9,650.7 1438.2,640.2 1440.0,628.0 C1441.9,615.5 1443.5,602.3 1445.0,590.0 C1446.5,578.4 1447.7,567.3 1449.0,556.0 C1450.2,544.7 1451.2,532.3 1452.5,522.0 C1453.6,513.3 1454.8,506.0 1456.0,498.0 C1457.2,490.0 1458.3,482.0 1459.7,474.0 C1461.1,466.0 1462.9,458.8 1464.5,450.0 C1466.5,439.2 1468.8,424.5 1470.5,414.0 C1471.8,405.9 1472.6,399.1 1474.0,392.5 C1475.2,386.9 1476.3,381.5 1478.0,377.0 C1479.4,373.2 1480.9,369.3 1483.0,367.0 C1484.6,365.3 1486.7,363.6 1488.5,363.6 C1490.3,363.6 1492.5,365.2 1494.0,367.0 C1496.0,369.4 1496.7,373.6 1498.0,378.0 C1499.8,384.4 1501.4,393.5 1503.0,402.0 C1504.7,411.4 1506.2,422.0 1507.8,432.0 C1509.4,442.0 1511.2,452.0 1512.6,462.0 C1514.0,472.0 1515.1,482.2 1516.0,492.0 C1516.9,501.5 1517.3,510.1 1518.0,520.0 C1518.8,531.2 1519.4,544.6 1520.5,556.0 C1521.5,566.5 1523.0,576.0 1524.0,586.0 C1525.0,596.0 1525.7,605.5 1526.5,616.0 C1527.4,627.5 1528.2,640.0 1529.0,652.0 C1529.7,664.0 1530.4,676.4 1531.0,688.0 C1531.6,699.0 1531.7,710.6 1532.5,720.0 C1533.1,727.5 1534.3,732.0 1535.0,740.0 C1536.1,751.8 1536.6,770.1 1537.4,784.0 C1538.2,796.6 1539.1,807.1 1539.8,820.0 C1540.6,834.8 1541.3,853.6 1542.0,868.0 C1542.5,879.7 1542.9,888.9 1543.5,900.0 C1544.2,912.1 1545.2,923.8 1546.0,937.7 C1547.0,954.8 1548.0,975.8 1549.0,995.0 C1550.0,1014.3 1550.9,1033.0 1551.8,1053.0 C1552.8,1074.5 1553.7,1098.1 1554.7,1120.0 C1555.6,1141.1 1556.4,1160.6 1557.6,1182.0 C1558.8,1205.1 1560.8,1231.3 1562.0,1254.0 C1563.1,1274.4 1563.7,1294.7 1564.8,1312.0 C1565.7,1326.0 1566.8,1337.8 1567.7,1350.0 C1568.5,1361.4 1569.4,1371.1 1570.0,1383.0 C1570.7,1396.8 1570.5,1413.9 1571.7,1428.0 C1572.8,1440.7 1574.9,1452.0 1576.5,1464.0 C1578.1,1476.0 1579.6,1488.6 1581.3,1500.0 C1582.8,1510.5 1584.4,1521.3 1586.0,1530.0 C1587.2,1536.8 1587.1,1543.9 1589.7,1548.0 C1591.7,1551.1 1594.3,1552.7 1598.0,1554.0 C1603.7,1556.0 1616.8,1553.7 1622.0,1555.3 C1624.8,1556.2 1625.0,1558.1 1628.0,1559.0 C1634.8,1561.1 1657.3,1559.0 1663.7,1561.0 C1666.3,1561.8 1666.2,1563.3 1668.7,1564.0 C1674.7,1565.8 1692.1,1564.0 1701.4,1565.0 C1708.5,1565.8 1712.6,1567.4 1720.0,1568.5 C1730.8,1570.1 1746.7,1571.1 1760.0,1573.0 C1773.4,1574.9 1786.3,1577.3 1800.0,1580.0 C1814.6,1582.9 1830.5,1586.7 1845.0,1590.0 C1858.5,1593.1 1872.7,1596.1 1884.0,1599.0 C1892.7,1601.2 1899.3,1603.7 1907.0,1605.5 C1914.6,1607.3 1921.8,1608.5 1930.0,1610.0 C1939.3,1611.7 1950.0,1613.5 1960.0,1615.0 C1970.0,1616.5 1981.0,1618.2 1990.0,1619.0 C1997.3,1619.7 2003.3,1619.7 2010.0,1620.0" stroke="#262866" stroke-width="2.2"/>
<path d="M1150.0,159.5 C1156.3,159.8 1161.3,159.5 1169.0,160.3 C1180.9,161.5 1201.3,164.7 1214.5,167.5 C1224.8,169.7 1232.3,172.1 1241.7,174.8 C1252.0,177.8 1264.1,181.1 1274.0,184.8 C1282.7,188.1 1290.7,191.6 1298.0,195.6 C1304.6,199.3 1310.3,202.7 1316.0,207.7 C1322.4,213.3 1328.2,220.6 1334.0,228.0 C1340.3,236.1 1346.9,245.3 1352.0,254.5 C1356.9,263.4 1360.2,272.1 1364.0,282.0 C1368.3,293.1 1372.8,306.3 1376.0,318.0 C1379.0,328.9 1380.5,339.2 1383.0,350.0 C1385.5,361.2 1388.5,372.5 1391.0,384.0 C1393.5,395.8 1395.6,408.6 1398.0,420.0 C1400.2,430.5 1402.1,439.2 1404.5,450.0 C1407.3,462.8 1411.7,479.4 1414.0,492.0 C1415.9,502.2 1416.7,511.5 1418.0,520.0 C1419.1,527.2 1420.2,532.6 1421.3,540.0 C1422.6,549.2 1423.5,560.9 1425.0,571.0 C1426.4,580.8 1428.5,590.7 1430.0,600.0 C1431.4,608.6 1432.7,616.7 1434.0,625.0 C1435.3,633.3 1436.7,641.7 1438.0,650.0 C1439.3,658.3 1440.7,666.7 1442.0,675.0 C1443.3,683.3 1444.6,690.6 1446.0,700.0 C1447.8,712.2 1450.1,728.5 1452.0,742.0 C1453.8,754.5 1455.4,766.0 1457.0,778.0 C1458.6,790.0 1460.1,802.0 1461.7,814.0 C1463.3,826.0 1464.9,838.6 1466.5,850.0 C1468.0,860.5 1469.6,869.1 1471.0,880.0 C1472.6,893.0 1474.0,908.6 1475.4,923.0 C1476.9,937.5 1478.0,952.0 1479.7,966.5 C1481.4,980.9 1483.8,995.3 1485.5,1009.7 C1487.2,1024.1 1488.3,1038.3 1489.8,1053.0 C1491.4,1068.3 1493.1,1083.9 1495.0,1100.0 C1497.0,1117.1 1499.4,1135.5 1501.4,1153.0 C1503.4,1170.1 1505.1,1186.8 1507.0,1203.7 C1508.9,1220.5 1510.9,1237.9 1512.9,1254.0 C1514.8,1269.0 1516.7,1283.0 1518.6,1297.4 C1520.5,1311.8 1522.3,1323.7 1524.4,1340.6 C1527.4,1364.6 1529.8,1400.4 1534.4,1428.0 C1538.6,1453.3 1544.3,1481.4 1550.0,1500.0 C1553.8,1512.3 1557.5,1520.6 1562.0,1530.0 C1566.2,1538.9 1570.9,1547.2 1576.0,1555.0 C1580.9,1562.5 1586.3,1569.4 1592.0,1576.0 C1597.6,1582.4 1603.5,1589.1 1610.0,1594.0 C1616.2,1598.6 1622.3,1602.1 1630.0,1605.0 C1639.2,1608.5 1650.7,1610.7 1662.0,1612.0 C1674.5,1613.4 1688.3,1613.3 1702.0,1612.5 C1716.6,1611.6 1731.4,1608.7 1747.0,1606.5 C1764.0,1604.1 1782.9,1601.2 1800.0,1598.5 C1816.1,1595.9 1833.3,1592.8 1847.0,1590.5 C1857.5,1588.8 1865.2,1586.9 1875.0,1586.0 C1885.8,1585.0 1898.8,1584.0 1909.0,1585.0 C1917.5,1585.9 1925.2,1587.8 1932.0,1590.5 C1938.0,1592.9 1942.6,1596.5 1948.0,1599.5 C1953.6,1602.5 1959.3,1605.9 1965.0,1608.5 C1970.6,1611.1 1975.4,1613.5 1982.0,1615.1 C1990.5,1617.2 2002.0,1617.7 2012.0,1618.5 C2022.0,1619.3 2032.0,1619.5 2042.0,1620.0" stroke="#000000" stroke-width="2.2"/>
<path d="M930.0,1619.0 C953.3,1618.3 976.4,1618.6 1000.0,1617.0 C1024.3,1615.4 1052.9,1611.5 1073.7,1609.4 C1088.9,1607.9 1099.5,1606.8 1113.3,1605.5 C1128.4,1604.1 1147.8,1603.8 1160.8,1601.5 C1170.1,1599.9 1176.7,1597.8 1184.5,1595.2 C1192.5,1592.6 1200.2,1588.6 1208.2,1585.7 C1216.1,1582.8 1224.7,1580.6 1232.0,1577.8 C1238.5,1575.3 1244.3,1572.7 1250.0,1570.0 C1255.3,1567.5 1260.3,1565.6 1265.0,1562.0 C1270.2,1557.9 1275.0,1552.3 1279.4,1546.0 C1284.7,1538.5 1289.7,1528.1 1293.7,1519.2 C1297.5,1510.8 1299.9,1501.8 1303.0,1494.0 C1305.7,1487.2 1308.6,1482.2 1311.0,1475.0 C1314.1,1465.9 1317.0,1451.6 1319.0,1443.3 C1320.3,1437.9 1321.1,1435.5 1322.0,1430.0 C1323.4,1421.3 1324.4,1405.0 1325.3,1395.8 C1325.9,1389.5 1326.5,1386.1 1327.0,1380.0 C1327.7,1371.6 1328.4,1361.0 1329.0,1350.0 C1329.7,1336.5 1330.0,1322.8 1331.0,1305.0 C1332.5,1279.2 1335.3,1240.7 1337.5,1210.0 C1339.6,1181.1 1341.8,1152.0 1344.0,1126.0 C1345.9,1103.5 1348.5,1082.0 1350.0,1063.0 C1351.3,1047.3 1351.4,1033.4 1352.8,1020.0 C1354.0,1008.1 1355.8,998.2 1357.5,986.6 C1359.4,974.1 1361.0,957.5 1363.8,947.5 C1365.5,941.0 1367.4,935.5 1370.0,932.0 C1371.8,929.6 1373.7,928.5 1376.0,927.0 C1378.7,925.3 1382.8,925.3 1385.6,922.5 C1389.7,918.2 1392.4,908.1 1395.0,900.6 C1397.6,893.0 1399.2,884.9 1401.0,877.0 C1402.8,869.2 1404.5,862.1 1406.0,853.8 C1407.7,844.1 1408.8,832.9 1410.6,822.5 C1412.4,812.0 1415.4,801.5 1417.0,791.0 C1418.5,780.7 1418.8,771.0 1420.0,760.0 C1421.4,747.5 1423.3,733.3 1425.0,720.0 C1426.7,706.7 1428.2,693.3 1430.0,680.0 C1431.8,666.7 1434.0,652.9 1436.0,640.0 C1437.9,627.9 1439.7,616.7 1441.5,605.0 C1443.3,593.3 1445.0,581.2 1447.0,570.0 C1448.9,559.6 1451.2,548.7 1453.0,540.0 C1454.4,533.2 1455.5,528.0 1457.0,522.0 C1458.5,516.0 1460.2,510.0 1462.0,504.0 C1463.8,498.0 1466.0,492.5 1468.0,486.0 C1470.3,478.6 1472.1,467.4 1475.0,462.0 C1476.8,458.7 1479.0,454.8 1481.0,455.0 C1483.5,455.2 1486.3,463.2 1488.5,468.0 C1490.9,473.4 1493.0,479.9 1494.6,486.0 C1496.2,491.9 1497.0,498.0 1498.0,504.0 C1499.0,510.0 1499.6,515.3 1500.6,522.0 C1501.9,530.3 1503.7,539.3 1505.0,550.0 C1506.7,564.2 1507.7,583.3 1509.0,600.0 C1510.3,616.7 1511.7,633.3 1513.0,650.0 C1514.3,666.7 1515.8,682.6 1517.0,700.0 C1518.3,719.1 1519.3,740.0 1520.5,760.0 C1521.7,780.0 1522.7,801.1 1524.0,820.0 C1525.1,836.9 1526.7,850.5 1527.7,868.0 C1528.9,889.1 1529.5,915.6 1530.5,937.7 C1531.4,957.7 1532.4,977.2 1533.5,995.0 C1534.4,1010.5 1535.5,1024.1 1536.5,1038.6 C1537.5,1053.1 1538.2,1069.1 1539.3,1082.0 C1540.2,1092.4 1541.4,1098.5 1542.2,1110.0 C1543.5,1128.4 1544.1,1158.0 1545.1,1182.0 C1546.1,1206.0 1546.9,1230.0 1548.0,1254.0 C1549.1,1278.0 1550.3,1308.4 1551.5,1326.0 C1552.2,1336.2 1552.5,1339.7 1553.5,1350.0 C1555.3,1368.6 1559.4,1402.5 1562.0,1428.0 C1564.5,1452.5 1565.9,1481.3 1569.0,1500.0 C1571.0,1512.2 1572.6,1521.0 1576.0,1530.0 C1579.1,1538.1 1583.4,1546.4 1588.0,1552.0 C1591.6,1556.4 1595.2,1559.5 1600.0,1562.0 C1605.4,1564.8 1612.1,1566.0 1619.0,1567.5 C1626.9,1569.2 1635.7,1570.3 1645.0,1571.0 C1655.6,1571.8 1669.3,1570.5 1679.0,1571.5 C1686.3,1572.2 1691.4,1574.2 1698.0,1575.0 C1705.0,1575.8 1711.6,1575.6 1720.0,1576.0 C1731.4,1576.5 1746.7,1576.8 1760.0,1578.0 C1773.4,1579.2 1786.3,1581.1 1800.0,1583.0 C1814.6,1585.0 1830.6,1587.2 1845.0,1590.0 C1858.5,1592.6 1872.7,1596.1 1884.0,1599.0 C1892.7,1601.2 1899.3,1603.7 1907.0,1605.5 C1914.6,1607.3 1921.8,1608.5 1930.0,1610.0 C1939.3,1611.7 1950.0,1613.5 1960.0,1615.0 C1970.0,1616.5 1981.0,1618.2 1990.0,1619.0 C1997.3,1619.7 2003.3,1619.7 2010.0,1620.0" stroke="#000000" stroke-width="2.2"/>
</g>
<g stroke="#000" stroke-width="3.5" fill="none" stroke-linecap="butt">
<path d="M270,79 H2211"/>
<path d="M255,1621 H2211"/>
<path d="M284,77.3 V1637"/>
<path d="M2184,77.3 V1652"/>
<path d="M255,1621.0 H284"/>
<path d="M270,1547.5 H284"/>
<path d="M255,1474.0 H284"/>
<path d="M270,1400.5 H284"/>
<path d="M255,1327.0 H284"/>
<path d="M270,1253.5 H284"/>
<path d="M255,1180.0 H284"/>
<path d="M270,1106.5 H284"/>
<path d="M255,1033.0 H284"/>
<path d="M270,959.5 H284"/>
<path d="M255,886.0 H284"/>
<path d="M270,812.5 H284"/>
<path d="M255,739.0 H284"/>
<path d="M270,665.5 H284"/>
<path d="M255,592.0 H284"/>
<path d="M270,518.5 H284"/>
<path d="M255,445.0 H284"/>
<path d="M270,371.5 H284"/>
<path d="M255,298.0 H284"/>
<path d="M270,224.5 H284"/>
<path d="M255,151.0 H284"/>
<path d="M270,77.5 H284"/>
<path d="M454.9,1621 V1652"/>
<path d="M627.7,1621 V1637"/>
<path d="M800.4,1621 V1652"/>
<path d="M973.2,1621 V1637"/>
<path d="M1145.9,1621 V1652"/>
<path d="M1318.7,1621 V1637"/>
<path d="M1491.4,1621 V1652"/>
<path d="M1664.2,1621 V1637"/>
<path d="M1836.9,1621 V1652"/>
<path d="M2009.7,1621 V1637"/>
<path d="M2182.4,1621 V1652"/>
<path d="M2184,1621.0 H2211"/>
<path d="M2184,1466.8 H2198"/>
<path d="M2184,1312.6 H2211"/>
<path d="M2184,1158.4 H2198"/>
<path d="M2184,1004.2 H2211"/>
<path d="M2184,850.0 H2198"/>
<path d="M2184,695.8 H2211"/>
<path d="M2184,541.6 H2198"/>
<path d="M2184,387.4 H2211"/>
<path d="M2184,233.2 H2198"/>
<path d="M2184,79.0 H2211"/>
</g>
<g class="t" font-size="68" style="stroke-width:0.8px">
<text x="238" y="1634.5" text-anchor="end">0</text>
<text x="238" y="1487.5" text-anchor="end">10</text>
<text x="238" y="1340.5" text-anchor="end">20</text>
<text x="238" y="1193.5" text-anchor="end">30</text>
<text x="238" y="1046.5" text-anchor="end">40</text>
<text x="238" y="899.5" text-anchor="end">50</text>
<text x="238" y="752.5" text-anchor="end">60</text>
<text x="238" y="605.5" text-anchor="end">70</text>
<text x="238" y="458.5" text-anchor="end">80</text>
<text x="238" y="311.5" text-anchor="end">90</text>
<text x="238" y="164.5" text-anchor="end">100</text>
<text x="455.4" y="1715" text-anchor="middle">100</text>
<text x="800.9" y="1715" text-anchor="middle">200</text>
<text x="1146.4" y="1715" text-anchor="middle">300</text>
<text x="1491.9" y="1715" text-anchor="middle">400</text>
<text x="1837.4" y="1715" text-anchor="middle">500</text>
<text x="2182.9" y="1715" text-anchor="middle">600</text>
<text x="2229" y="1633.5">0,0</text>
<text x="2229" y="1325.1">0,5</text>
<text x="2229" y="1016.7">1,0</text>
<text x="2229" y="708.3">1,5</text>
<text x="2229" y="399.9">2,0</text>
<text x="2229" y="91.5">2,5</text>
</g>
<text class="t" x="997" y="1816" font-size="79" textLength="588" lengthAdjust="spacingAndGlyphs">Temperature (°C)</text>
<text class="r" transform="translate(128,982) rotate(-90)" font-size="90" textLength="377" lengthAdjust="spacingAndGlyphs">Weight (%)</text>
<text class="r" transform="translate(2410,1151) rotate(-90)" font-size="90" textLength="625" lengthAdjust="spacingAndGlyphs">Deriv.weight %/°C</text>
<path d="M403,962.5 H590" stroke="#000000" stroke-width="3" fill="none"/>
<text class="t" x="601" y="987.0" font-size="72" textLength="132" lengthAdjust="spacingAndGlyphs">PBS</text>
<path d="M403,1065.3 H590" stroke="#2b8f7c" stroke-width="3" fill="none"/>
<text class="t" x="601" y="1089.8" font-size="72" textLength="329" lengthAdjust="spacingAndGlyphs">PBS-Q0.05</text>
<path d="M403,1168.1 H590" stroke="#262860" stroke-width="3" fill="none"/>
<text class="t" x="601" y="1192.6" font-size="72" textLength="329" lengthAdjust="spacingAndGlyphs">PBS-Q0.10</text>
<path d="M403,1270.9 H590" stroke="#d49ad4" stroke-width="3" fill="none"/>
<text class="t" x="601" y="1295.4" font-size="72" textLength="329" lengthAdjust="spacingAndGlyphs">PBS-Q0.25</text>
<path d="M403,1373.7 H590" stroke="#8a3545" stroke-width="3" fill="none"/>
<text class="t" x="601" y="1398.2" font-size="72" textLength="329" lengthAdjust="spacingAndGlyphs">PBS-Q0.50</text>
<path d="M403,1476.5 H590" stroke="#c8964e" stroke-width="3" fill="none"/>
<text class="t" x="605" y="1501.0" font-size="72" textLength="294" lengthAdjust="spacingAndGlyphs">quercetin</text>
<path d="M455,218 V304 H384" stroke="#c0c0c0" stroke-width="3" fill="none"/>
<path d="M346,301 H360 V297 H375 V293 H385 V314 H380 V317 H377 V313 H362 V309 H346 Z" fill="#c0c0c0"/>
<path d="M1190,1376 V1514" stroke="#000" stroke-width="3.5" fill="none"/>
<path d="M1180,1512 H1199 V1531 H1198 V1543 H1195 V1551 H1187 V1543 H1184 V1531 H1180 Z" fill="#000"/>
</svg></body></html>
